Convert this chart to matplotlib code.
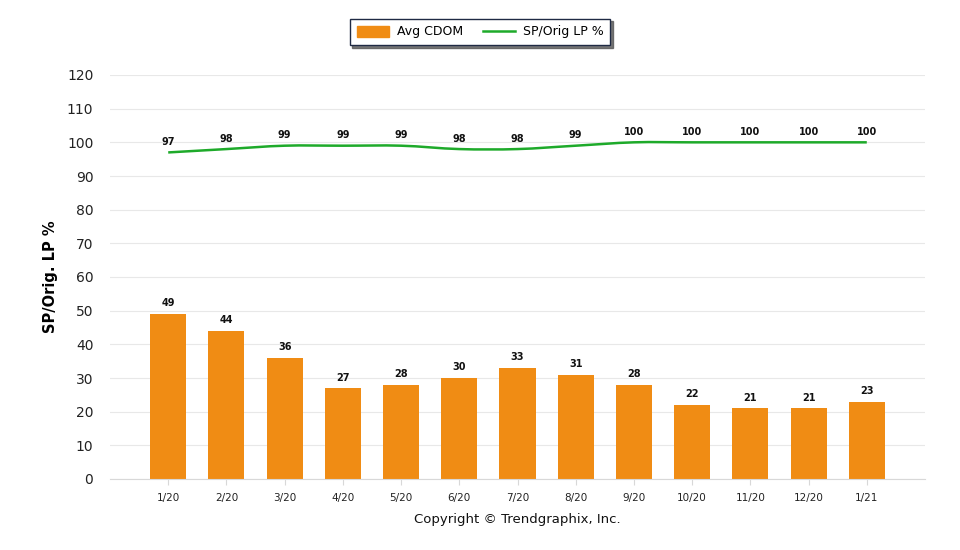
import matplotlib
matplotlib.use('Agg')
import matplotlib.pyplot as plt
from matplotlib.path import Path
from matplotlib.patches import PathPatch

months = ['1/20', '2/20', '3/20', '4/20', '5/20', '6/20', '7/20',
          '8/20', '9/20', '10/20', '11/20', '12/20', '1/21']
avg_cdom = [49, 44, 36, 27, 28, 30, 33, 31, 28, 22, 21, 21, 23]
sp_orig = [97, 98, 99, 99, 99, 98, 98, 99, 100, 100, 100, 100, 100]

orange = '#F08C14'
green = '#1EAA2A'

plt.rcParams['font.family'] = ['DejaVu Sans']

fig = plt.figure(figsize=(9.6, 5.5), dpi=100)
ax = fig.add_axes([110 / 960, 1 - 479 / 550, (925 - 110) / 960, (479 - 75) / 550])

x = list(range(len(months)))
ax.bar(x, avg_cdom, width=0.62, color=orange, zorder=2)

# smooth line through the points (cardinal spline as bezier segments)
verts = [(x[0], sp_orig[0])]
codes = [Path.MOVETO]
t = 0.25
for i in range(len(x) - 1):
    x0, y0 = (x[i - 1], sp_orig[i - 1]) if i > 0 else (x[i], sp_orig[i])
    x1, y1 = x[i], sp_orig[i]
    x2, y2 = x[i + 1], sp_orig[i + 1]
    x3, y3 = (x[i + 2], sp_orig[i + 2]) if i + 2 < len(x) else (x2, y2)
    c1 = (x1 + (x2 - x0) * t / 1.5, y1 + (y2 - y0) * t / 1.5)
    c2 = (x2 - (x3 - x1) * t / 1.5, y2 - (y3 - y1) * t / 1.5)
    verts += [c1, c2, (x2, y2)]
    codes += [Path.CURVE4] * 3
ax.add_patch(PathPatch(Path(verts, codes), fill=False, edgecolor=green, lw=1.8, zorder=3))
ax.plot([], [], color=green, lw=1.8, label='SP/Orig LP %')

for xi, v in zip(x, avg_cdom):
    ax.annotate(str(v), (xi, v), xytext=(0, 4), textcoords='offset points',
                ha='center', va='bottom', fontsize=7, fontweight='bold', color='#111111')
for xi, v in zip(x, sp_orig):
    ax.annotate(str(v), (xi, v), xytext=(0, 4), textcoords='offset points',
                ha='center', va='bottom', fontsize=7, fontweight='bold', color='#111111')

ax.set_xlim(-1, 13)
ax.set_ylim(0, 120)
ax.set_yticks(range(0, 121, 10))
ax.set_xticks(x)
ax.set_xticklabels(months, fontsize=7.5, color='#222222')
ax.tick_params(axis='y', length=0, labelsize=10, colors='#222222', pad=12)
ax.tick_params(axis='x', length=4, color='#d8d8d8', pad=6)
ax.grid(axis='y', color='#e8e8e8', lw=0.8, zorder=0)
for s in ['top', 'right', 'left']:
    ax.spines[s].set_visible(False)
ax.spines['bottom'].set_color('#d8d8d8')
ax.set_ylabel('SP/Orig. LP %', fontsize=10.5, fontweight='bold', labelpad=6)

handles = [plt.Rectangle((0, 0), 1, 1, color=orange), ax.lines[0]]
leg = fig.legend(handles, ['Avg CDOM', 'SP/Orig LP %'], loc='center',
                 bbox_to_anchor=(480 / 960, 1 - 32 / 550), ncol=2, fontsize=9,
                 frameon=True, fancybox=False, shadow={'color': '#555555', 'alpha': 0.8},
                 handlelength=2.6, handleheight=1.0, columnspacing=1.6,
                 borderpad=0.55, handletextpad=0.6)
leg.get_frame().set_edgecolor('#1f2a44')
leg.get_frame().set_linewidth(1.0)

fig.text(517 / 960, 1 - 520 / 550, 'Copyright \u00a9 Trendgraphix, Inc.',
         ha='center', va='center', fontsize=9.5, color='#111111')

fig.savefig('out.png', dpi=100)
